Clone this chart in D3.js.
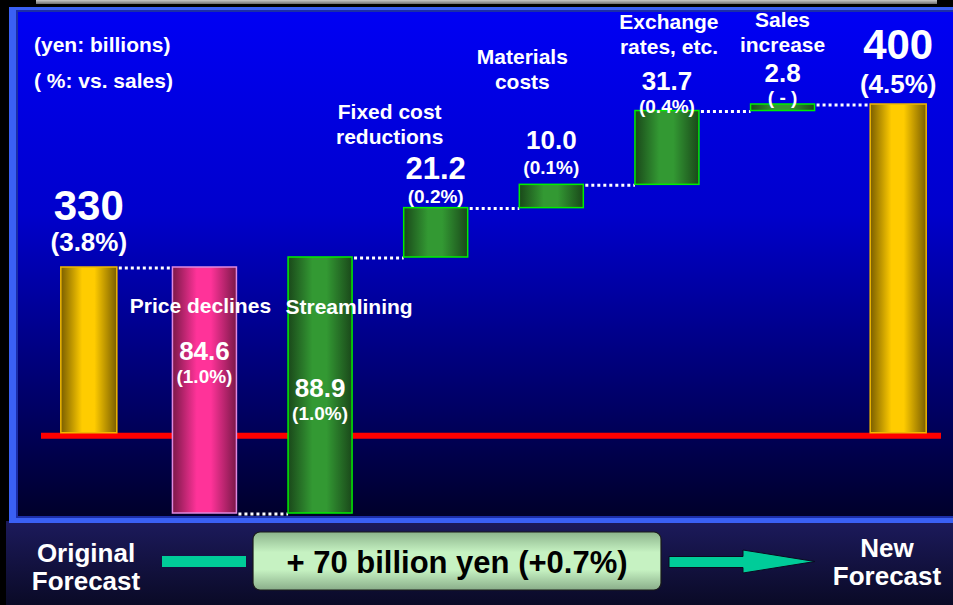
<!DOCTYPE html>
<html>
<head>
<meta charset="utf-8">
<script src="https://cdn.jsdelivr.net/npm/d3@7.9.0/dist/d3.min.js"></script>
<style>
  html, body { margin: 0; padding: 0; background: #000; }
  svg { display: block; }
  text { font-family: "Liberation Sans", Arial, sans-serif; font-weight: bold; }
</style>
</head>
<body>
<svg id="chart" width="953" height="605"></svg>
<script>
// data (yen: billions)
const categories = ["Original Forecast", "Price declines", "Streamlining", "Fixed cost reductions",
  "Materials costs", "Exchange rates, etc.", "Sales increase", "New Forecast"];
const categoryLines = [[], ["Price declines"], ["Streamlining"], ["Fixed cost", "reductions"],
  ["Materials", "costs"], ["Exchange", "rates, etc."], ["Sales", "increase"], []];
const kinds = ["total", "down", "up", "up", "up", "up", "up", "total"];
const values = [330, -84.6, 88.9, 21.2, 10.0, 31.7, 2.8, 400];
const valueLabels = ["330", "84.6", "88.9", "21.2", "10.0", "31.7", "2.8", "400"];
const pctLabels = ["(3.8%)", "(1.0%)", "(1.0%)", "(0.2%)", "(0.1%)", "(0.4%)", "( - )", "(4.5%)"];
const unitNotes = ["(yen: billions)", "( %: vs. sales)"];
const summaryText = "+ 70 billion yen (+0.7%)";
const startLabel = ["Original", "Forecast"];
const endLabel = ["New", "Forecast"];
const floorValue = 273; // where the red baseline cuts the totals

// running totals
let running = 0;
const bars = categories.map((c, i) => {
  let start, end;
  if (kinds[i] === "total") { start = floorValue; end = values[i]; }
  else { start = running; end = running + values[i]; }
  running = end;
  return { cat: c, i, kind: kinds[i], start, end };
});

// label nudges relative to bar top (layout only)
const labelLayout = [
  { vy: -47, py: -16, vs: 42, ps: 26 },
  { vy: 93, py: 116, vs: 26, ps: 19, cdx: -4, cdy: 46 },
  { vy: 140, py: 163, vs: 26, ps: 19, cdx: 29, cdy: 57 },
  { vy: -29, py: -5, vs: 31, ps: 19, cdx: -46, cdy: -89 },
  { vy: -35, py: -10, vs: 26, ps: 19, cdx: -29, cdy: -120 },
  { vy: -21, py: 2, vs: 26, ps: 19, cdx: 2, cdy: -82 },
  { vy: -22, py: 0, vs: 26, ps: 19, cdx: 0, cdy: -77 },
  { vy: -45, py: -11, vs: 42, ps: 26 }
];

const svg = d3.select("#chart");
const W = 953, H = 605;

const x = d3.scaleBand().domain(categories).range([31, 956]).padding(0);
const allEnds = bars.filter(b => b.kind !== "total").flatMap(b => [b.start, b.end]);
const y = d3.scaleLinear()
  .domain([d3.min(allEnds), values[0], d3.max(bars, b => b.end)])
  .range([513, 267, 104]);

const defs = svg.append("defs");
function vGrad(id, stops, y1, y2) {
  const g = defs.append("linearGradient").attr("id", id)
    .attr("x1", 0).attr("x2", 0);
  if (y1 !== undefined) g.attr("gradientUnits", "userSpaceOnUse").attr("y1", y1).attr("y2", y2);
  else g.attr("y1", 0).attr("y2", 1);
  stops.forEach(s => g.append("stop").attr("offset", s[0]).attr("stop-color", s[1]));
}
function hGrad(id, edge, mid) {
  const g = defs.append("linearGradient").attr("id", id).attr("x1", 0).attr("x2", 1).attr("y1", 0).attr("y2", 0);
  [[0, edge], [0.38, mid], [0.6, mid], [1, edge]].forEach(s =>
    g.append("stop").attr("offset", s[0]).attr("stop-color", s[1]));
}
vGrad("panel", [[0, "#0000f4"], [0.4, "#0000cc"], [0.7, "#00007a"], [1, "#00002a"]], 11, 517);
vGrad("foot", [[0, "#1c1a5c"], [1, "#0a0a26"]], 521, 605);
vGrad("rim", [[0, "#c8c8c8"], [1, "#707070"]], 0, 4);
vGrad("box", [[0, "#8cb48c"], [0.35, "#c6f2c2"], [0.65, "#c6f2c2"], [1, "#8aae8a"]]);
hGrad("gold", "#7a5e00", "#ffcc00");
hGrad("pink", "#7a1848", "#ff3399");
hGrad("green", "#1a481a", "#339933");

// background and frame
svg.append("rect").attr("width", W).attr("height", H).attr("fill", "#000");
svg.append("rect").attr("x", 36).attr("y", 0).attr("width", 901).attr("height", 4).attr("fill", "url(#rim)");
svg.append("rect").attr("x", 6).attr("y", 521).attr("width", W).attr("height", H - 521).attr("fill", "url(#foot)");
svg.append("rect").attr("x", 9).attr("y", 7).attr("width", 960).attr("height", 516).attr("fill", "#3a60f4");
svg.append("rect").attr("x", 17).attr("y", 11).attr("width", 950).attr("height", 506)
  .attr("fill", "url(#panel)").attr("stroke", "#1c2ea8").attr("stroke-width", 2);

// red baseline
svg.append("rect").attr("x", 41).attr("y", y(floorValue)).attr("width", 900).attr("height", 6).attr("fill", "#ff0000");

const barW = d => d.kind === "total" ? 56 : 64;
const cx = d => x(d.cat) + x.bandwidth() / 2;
const fillOf = { total: "url(#gold)", down: "url(#pink)", up: "url(#green)" };
const strokeOf = { total: "#f0b800", down: "#e088e0", up: "#00ee00" };

// connectors
const links = bars.slice(0, -1).map((b, i) => ({ from: b, to: bars[i + 1] }));
svg.append("g").selectAll("line").data(links).join("line")
  .attr("x1", d => cx(d.from) + barW(d.from) / 2 + 2)
  .attr("x2", d => cx(d.to) - barW(d.to) / 2)
  .attr("y1", d => y(d.from.end) + 1)
  .attr("y2", d => y(d.from.end) + 1)
  .attr("stroke", "#fff").attr("stroke-width", 3).attr("stroke-dasharray", "3,3");

// bars
svg.append("g").selectAll("rect").data(bars).join("rect")
  .attr("x", d => cx(d) - barW(d) / 2)
  .attr("y", d => y(Math.max(d.start, d.end)))
  .attr("width", barW)
  .attr("height", d => Math.abs(y(d.start) - y(d.end)))
  .attr("fill", d => fillOf[d.kind])
  .attr("stroke", d => strokeOf[d.kind]).attr("stroke-width", 1.5);

// labels
const barTop = d => y(Math.max(d.start, d.end));
const lab = svg.append("g").attr("fill", "#fff").attr("text-anchor", "middle");
bars.forEach((d, i) => {
  const L = labelLayout[i];
  lab.append("text").attr("x", cx(d)).attr("y", barTop(d) + L.vy)
    .attr("font-size", L.vs).text(valueLabels[i]);
  lab.append("text").attr("x", cx(d)).attr("y", barTop(d) + L.py)
    .attr("font-size", L.ps).text(pctLabels[i]);
  categoryLines[i].forEach((t, k) => {
    lab.append("text").attr("x", cx(d) + L.cdx).attr("y", barTop(d) + L.cdy + k * 25)
      .attr("font-size", 21).text(t);
  });
});

unitNotes.forEach((t, k) => {
  svg.append("text").attr("x", 34).attr("y", 52 + k * 36).attr("fill", "#fff")
    .attr("font-size", 21).text(t);
});

// footer
const foot = svg.append("g");
startLabel.forEach((t, k) => foot.append("text").attr("x", 86).attr("y", 562 + k * 28)
  .attr("text-anchor", "middle").attr("fill", "#fff").attr("font-size", 26).text(t));
endLabel.forEach((t, k) => foot.append("text").attr("x", 887).attr("y", 557 + k * 28)
  .attr("text-anchor", "middle").attr("fill", "#fff").attr("font-size", 26).text(t));

foot.append("rect").attr("x", 162).attr("y", 556).attr("width", 84).attr("height", 11).attr("fill", "#00cc99");
foot.append("path")
  .attr("d", "M669,556.5 H743 V550 L815,561.5 L743,573 V567.5 H669 Z")
  .attr("fill", "#00cc99").attr("stroke", "#0a0a20").attr("stroke-width", 1);

foot.append("rect").attr("x", 253).attr("y", 532).attr("width", 408).attr("height", 58)
  .attr("rx", 7).attr("fill", "url(#box)").attr("stroke", "#1a1a1a").attr("stroke-width", 1.2);
foot.append("text").attr("x", 457).attr("y", 573).attr("text-anchor", "middle")
  .attr("fill", "#000").attr("font-size", 31).text(summaryText);
</script>
</body>
</html>
